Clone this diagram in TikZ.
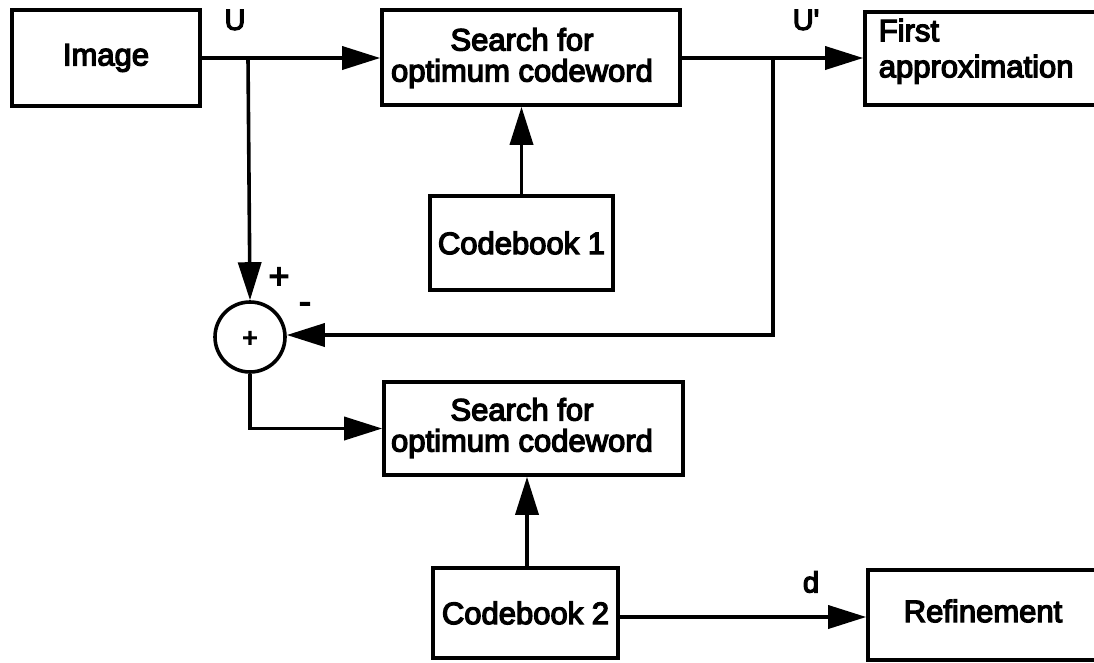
\documentclass[tikz,border=0pt]{standalone}
\usepackage{fontspec}
\newfontfamily\lblfont{Liberation Sans}
\usetikzlibrary{arrows.meta}
% heavy lettering: fill and outline the glyphs
\newcommand\heavy[1]{\special{pdf:code q 2 Tr 1.3 w 0 0 0 RG}#1\special{pdf:code Q}}
\begin{document}
\begin{tikzpicture}[x=1pt,y=-1pt,
  line width=3.6pt,
  every node/.style={font=\lblfont\fontsize{31}{38}\selectfont, inner sep=0pt},
  blk/.style={draw, rectangle, align=center},
  twoline/.style={align=center, font=\lblfont\fontsize{31}{31}\selectfont},
  arr/.style={-{Triangle[length=38pt,width=23pt]}},
  lbl/.style={font=\lblfont\fontsize{29}{34}\selectfont}]
\useasboundingbox (0,0) rectangle (1094,662);

% blocks (positions given as centre, size in px)
\node[blk, minimum width=188pt, minimum height=96pt] (img) at (106,58) {\heavy{Image}};
\node[blk, minimum width=298pt, minimum height=95pt] (s1) at (531,57.5) {};
\node[twoline] at (522,58) {\heavy{Search for}\\\heavy{optimum codeword}};
\node[blk, minimum width=240pt, minimum height=93pt] (fa) at (985,58.5) {};
\node[align=left, anchor=north west, font=\lblfont\fontsize{31}{36}\selectfont] at (877,17) {\heavy{First}\\\heavy{approximation}};
\node[blk, minimum width=183pt, minimum height=94pt] (cb1) at (521.5,243) {\heavy{Codebook 1}};
\node[draw, circle, minimum size=70pt] (sum) at (250,337) {};
\node[font=\lblfont\fontsize{26}{26}\selectfont] at (250,339) {\heavy{+}};
\node[blk, minimum width=299pt, minimum height=93pt] (s2) at (533.5,428.5) {};
\node[twoline] at (522,428) {\heavy{Search for}\\\heavy{optimum codeword}};
\node[blk, minimum width=185pt, minimum height=90pt] (cb2) at (525.5,613) {\heavy{Codebook 2}};
\node[blk, minimum width=240pt, minimum height=90pt] (ref) at (988,615) {};
\node at (983,611) {\heavy{Refinement}};

% branch points
\coordinate (j1) at (248,58);
\coordinate (j2) at (773,58);
\coordinate (c2) at (773,335);

% connectors
\draw[arr] (img.east |- j1) -- (s1.west |- j1);
\draw[arr] (j1) -- (sum.north);
\draw[arr] (s1.east |- j2) -- (fa.west |- j2);
\draw[arr] (j2) -- (c2) -- (sum.east |- c2);
\draw[arr] (cb1.north) -- (cb1.north |- s1.south);
\draw[arr] (sum.south) |- (s2.west);
\draw[arr] (cb2.north -| 527,0) -- (527,0 |- s2.south);
\draw[arr] (cb2.east |- 0,617) -- (ref.west |- 0,617);

% signal labels
\node[lbl] at (235,20) {\heavy{U}};
\node[lbl] at (806,20) {\heavy{U'}};
\node[lbl] at (811,582) {\heavy{d}};
\node[lbl, font=\lblfont\fontsize{36}{36}\selectfont] at (279,278) {\heavy{+}};
\node[lbl, font=\lblfont\fontsize{36}{36}\selectfont] at (305,308) {\heavy{-}};
\end{tikzpicture}
\end{document}
